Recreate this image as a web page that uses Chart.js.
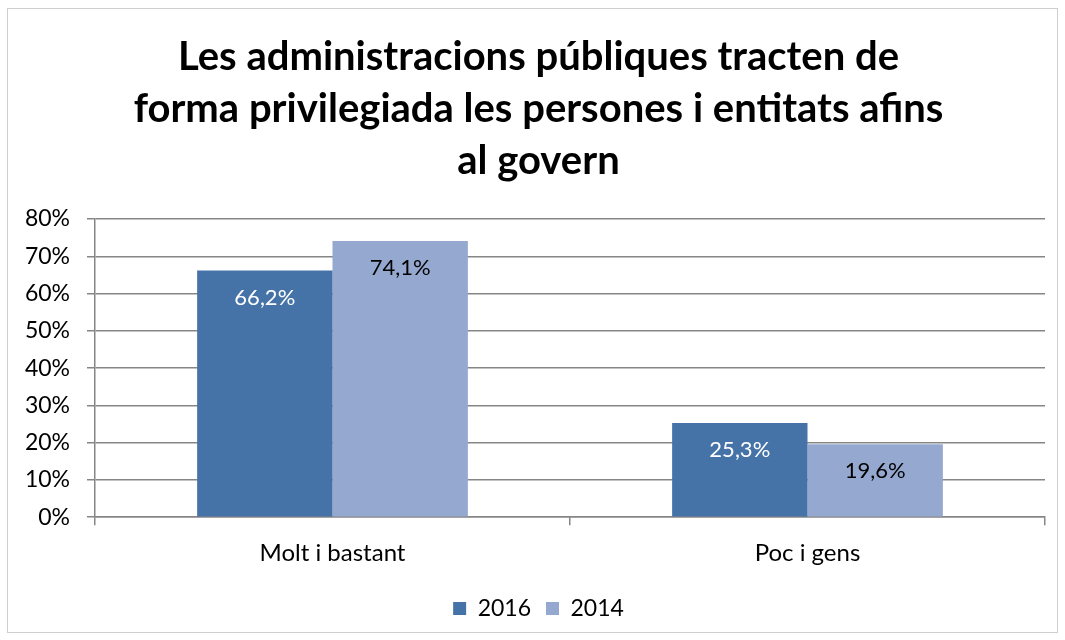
<!DOCTYPE html>
<html>
<head>
<meta charset="utf-8">
<script src="https://cdn.jsdelivr.net/npm/chart.js@4"></script>
<style>
  body { margin: 0; background: #fff; }
  #wrap { position: absolute; left: 7px; top: 8px; width: 1049px; height: 623px; border: 1px solid #cfcfcf; }
</style>
</head>
<body>
<div id="wrap"><canvas id="myChart" width="1049" height="623"></canvas></div>
<script>
// Datos
var categories = ["Molt i bastant", "Poc i gens"];
var values2016 = [66.2, 25.3];
var values2014 = [74.1, 19.6];
var yTicks = [0, 10, 20, 30, 40, 50, 60, 70, 80];

var FONT = "Lato, 'Open Sans', sans-serif";

// etiquetas dentro de las barras
var barLabels = {
    id: 'barLabels',
    afterLayout: function (chart) {
        // que las etiquetas del eje y no se recorten
        chart.scales.y.left = 0;
    },
    afterDatasetsDraw: function (chart) {
        var ctx = chart.ctx;
        ctx.save();
        ctx.font = "22px " + FONT;
        ctx.textAlign = 'center';
        ctx.textBaseline = 'middle';
        chart.data.datasets.forEach(function (ds, i) {
            chart.getDatasetMeta(i).data.forEach(function (bar, j) {
                ctx.fillStyle = ds.labelColor;
                ctx.fillText(ds.data[j].toFixed(1).replace('.', ',') + '%', bar.x, bar.y + 27);
            });
        });
        ctx.restore();
    }
};

var config = {
    type: 'bar',
    data: {
        labels: categories,
        datasets: [{
            label: '2016',
            data: values2016,
            backgroundColor: '#4673a7',
            labelColor: '#ffffff'
        }, {
            label: '2014',
            data: values2014,
            backgroundColor: '#95a9d0',
            labelColor: '#000000'
        }]
    },
    options: {
        responsive: false,
        animation: false,
        categoryPercentage: 0.57,
        barPercentage: 1,
        layout: { padding: { left: 24, right: 12, top: 0, bottom: 2 } },
        plugins: {
            title: {
                display: true,
                text: ["Les administracions públiques tracten de",
                       "forma privilegiada les persones i entitats afins",
                       "al govern"],
                color: '#000',
                font: { family: FONT, size: 40, weight: 'bold', lineHeight: 1.3 },
                padding: { top: 22, bottom: 32 }
            },
            legend: {
                position: 'bottom',
                labels: {
                    color: '#000',
                    font: { family: FONT, size: 23 },
                    boxWidth: 13,
                    boxHeight: 13,
                    padding: 15
                }
            },
            tooltip: { enabled: false }
        },
        scales: {
            x: {
                grid: { display: true, drawOnChartArea: false, drawTicks: true, tickLength: 8, color: '#868686', lineWidth: 1.5 },
                border: { color: '#868686', width: 1.5 },
                ticks: { color: '#000', font: { family: FONT, size: 24 }, padding: 14 }
            },
            y: {
                min: 0,
                max: 80,
                afterBuildTicks: function (axis) {
                    axis.ticks = yTicks.map(function (v) { return { value: v }; });
                },
                afterFit: function (axis) { axis.width = 63; },
                grid: { color: '#868686', lineWidth: 1.5, tickLength: 8 },
                border: { color: '#868686', width: 1.5 },
                ticks: {
                    color: '#000',
                    font: { family: FONT, size: 23 },
                    padding: 17,
                    callback: function (v) { return v + '%'; }
                }
            }
        }
    },
    plugins: [barLabels]
};

var myChart = new Chart(document.getElementById('myChart'), config);
</script>
</body>
</html>
